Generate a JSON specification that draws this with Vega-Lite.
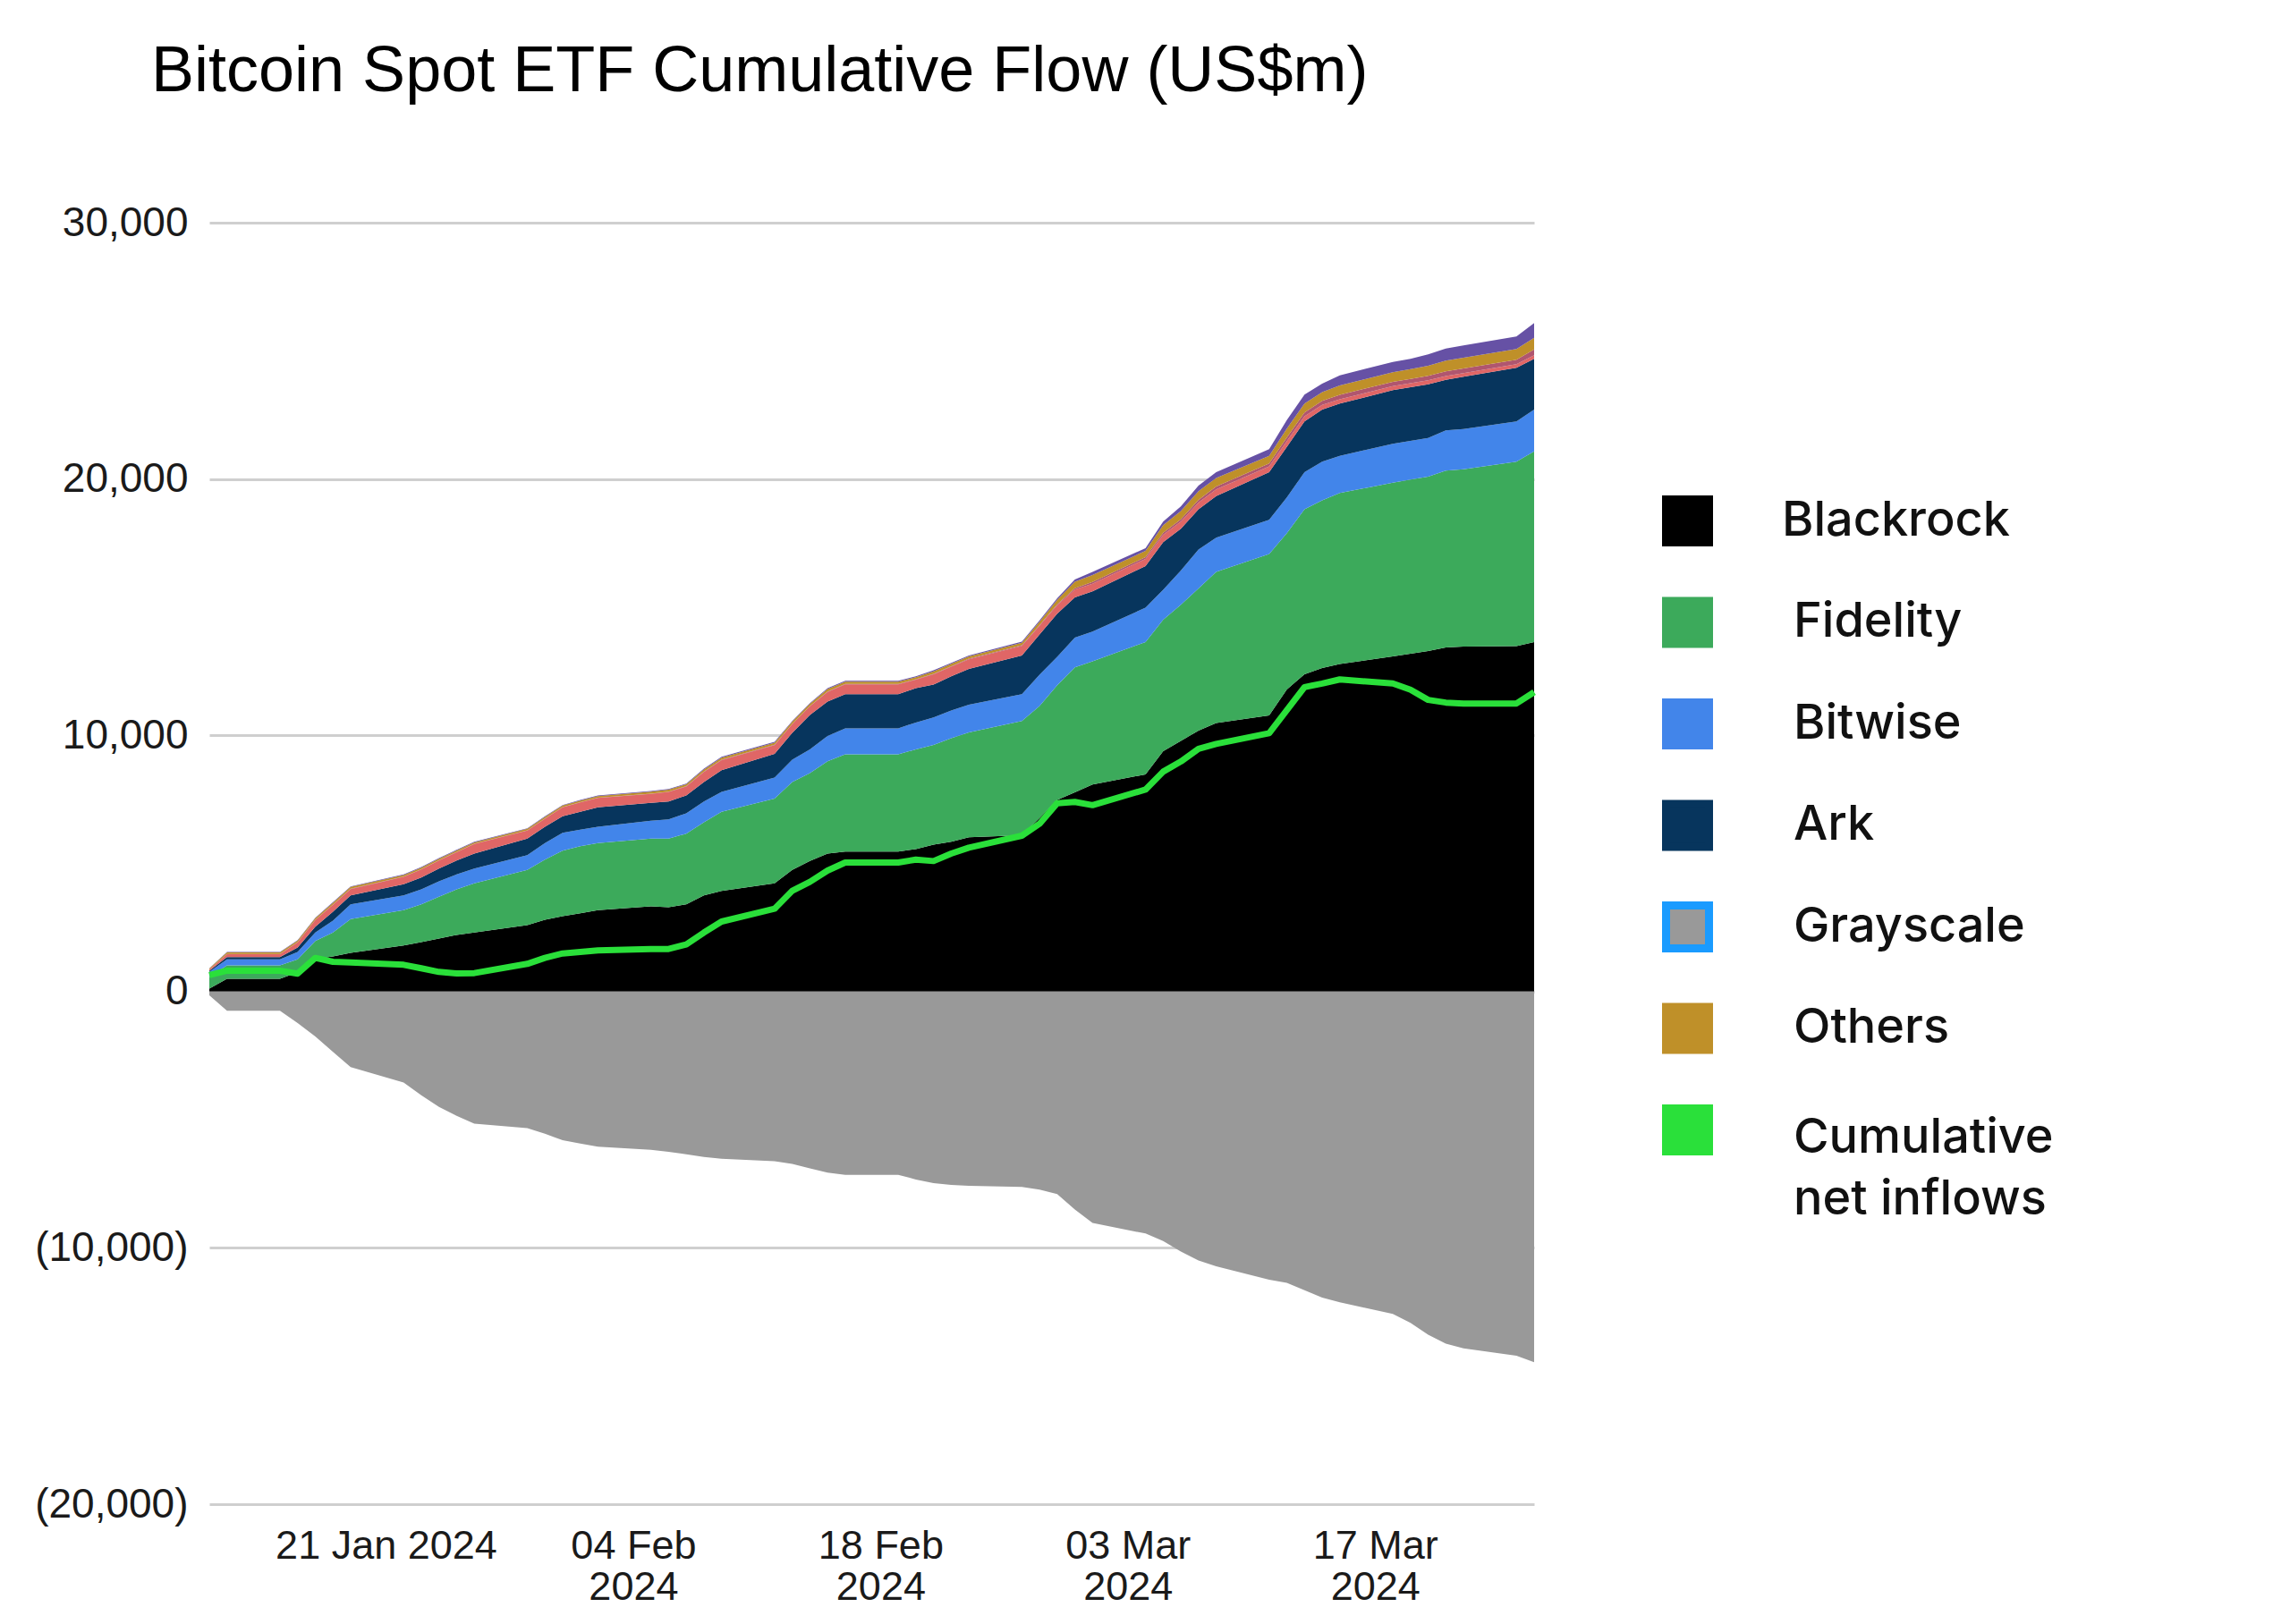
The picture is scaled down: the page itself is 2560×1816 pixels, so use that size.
{
  "$schema": "https://vega.github.io/schema/vega-lite/v6.json",
  "width": 1481,
  "height": 1433,
  "padding": {"left": 38, "top": 44, "right": 10, "bottom": 5},
  "background": "white",
  "title": {
    "text": "Bitcoin Spot ETF Cumulative Flow (US$m)",
    "anchor": "start",
    "frame": "group",
    "dx": -65,
    "offset": 109,
    "font": "Liberation Sans",
    "fontSize": 72,
    "fontWeight": "normal",
    "color": "#000000"
  },
  "datasets": {
    "stackRank": [
      {"fund": "Blackrock", "rank": 1},
      {"fund": "Fidelity", "rank": 2},
      {"fund": "Bitwise", "rank": 3},
      {"fund": "Ark", "rank": 4},
      {"fund": "Invesco", "rank": 5},
      {"fund": "Franklin", "rank": 6},
      {"fund": "Others", "rank": 7},
      {"fund": "Valkyrie", "rank": 8},
      {"fund": "Grayscale", "rank": 9}
    ],
    "flows": [
      {"date": "2024-01-11T00:00:00", "Blackrock": 116, "Fidelity": 442, "Bitwise": 209, "Ark": 47, "Invesco": 46, "Franklin": 4, "Others": 36, "Valkyrie": 7, "Grayscale": -150, "Net": 640},
      {"date": "2024-01-12T00:00:00", "Blackrock": 500, "Fidelity": 523, "Bitwise": 233, "Ark": 93, "Invesco": 110, "Franklin": 6, "Others": 60, "Valkyrie": 21, "Grayscale": -750, "Net": 814},
      {"date": "2024-01-15T00:00:00", "Blackrock": 500, "Fidelity": 523, "Bitwise": 233, "Ark": 93, "Invesco": 110, "Franklin": 6, "Others": 60, "Valkyrie": 21, "Grayscale": -750, "Net": 814},
      {"date": "2024-01-16T00:00:00", "Blackrock": 750, "Fidelity": 506, "Bitwise": 290, "Ark": 175, "Invesco": 200, "Franklin": 9, "Others": 60, "Valkyrie": 21, "Grayscale": -1230, "Net": 700},
      {"date": "2024-01-17T00:00:00", "Blackrock": 1279, "Fidelity": 698, "Bitwise": 325, "Ark": 233, "Invesco": 257, "Franklin": 10, "Others": 60, "Valkyrie": 22, "Grayscale": -1750, "Net": 1314},
      {"date": "2024-01-18T00:00:00", "Blackrock": 1372, "Fidelity": 930, "Bitwise": 465, "Ark": 349, "Invesco": 270, "Franklin": 10, "Others": 70, "Valkyrie": 22, "Grayscale": -2350, "Net": 1163},
      {"date": "2024-01-19T00:00:00", "Blackrock": 1511, "Fidelity": 1314, "Bitwise": 582, "Ark": 348, "Invesco": 245, "Franklin": 10, "Others": 70, "Valkyrie": 24, "Grayscale": -2950, "Net": 1140},
      {"date": "2024-01-22T00:00:00", "Blackrock": 1802, "Fidelity": 1372, "Bitwise": 581, "Ark": 431, "Invesco": 290, "Franklin": 10, "Others": 60, "Valkyrie": 24, "Grayscale": -3550, "Net": 1046},
      {"date": "2024-01-23T00:00:00", "Blackrock": 1930, "Fidelity": 1477, "Bitwise": 581, "Ark": 465, "Invesco": 310, "Franklin": 10, "Others": 62, "Valkyrie": 25, "Grayscale": -4050, "Net": 907},
      {"date": "2024-01-24T00:00:00", "Blackrock": 2070, "Fidelity": 1627, "Bitwise": 605, "Ark": 500, "Invesco": 312, "Franklin": 10, "Others": 60, "Valkyrie": 25, "Grayscale": -4500, "Net": 767},
      {"date": "2024-01-25T00:00:00", "Blackrock": 2209, "Fidelity": 1779, "Bitwise": 582, "Ark": 546, "Invesco": 323, "Franklin": 10, "Others": 60, "Valkyrie": 25, "Grayscale": -4850, "Net": 709},
      {"date": "2024-01-26T00:00:00", "Blackrock": 2302, "Fidelity": 1919, "Bitwise": 581, "Ark": 581, "Invesco": 372, "Franklin": 10, "Others": 58, "Valkyrie": 25, "Grayscale": -5150, "Net": 721},
      {"date": "2024-01-29T00:00:00", "Blackrock": 2593, "Fidelity": 2151, "Bitwise": 581, "Ark": 640, "Invesco": 314, "Franklin": 10, "Others": 60, "Valkyrie": 22, "Grayscale": -5330, "Net": 1081},
      {"date": "2024-01-30T00:00:00", "Blackrock": 2802, "Fidelity": 2349, "Bitwise": 639, "Ark": 640, "Invesco": 314, "Franklin": 10, "Others": 60, "Valkyrie": 23, "Grayscale": -5550, "Net": 1314},
      {"date": "2024-01-31T00:00:00", "Blackrock": 2941, "Fidelity": 2559, "Bitwise": 697, "Ark": 640, "Invesco": 349, "Franklin": 10, "Others": 60, "Valkyrie": 23, "Grayscale": -5800, "Net": 1488},
      {"date": "2024-02-01T00:00:00", "Blackrock": 3058, "Fidelity": 2616, "Bitwise": 640, "Ark": 697, "Invesco": 372, "Franklin": 10, "Others": 60, "Valkyrie": 23, "Grayscale": -5930, "Net": 1546},
      {"date": "2024-02-02T00:00:00", "Blackrock": 3174, "Fidelity": 2616, "Bitwise": 640, "Ark": 756, "Invesco": 372, "Franklin": 10, "Others": 60, "Valkyrie": 22, "Grayscale": -6050, "Net": 1604},
      {"date": "2024-02-05T00:00:00", "Blackrock": 3325, "Fidelity": 2640, "Bitwise": 697, "Ark": 698, "Invesco": 349, "Franklin": 10, "Others": 80, "Valkyrie": 26, "Grayscale": -6170, "Net": 1663},
      {"date": "2024-02-06T00:00:00", "Blackrock": 3290, "Fidelity": 2675, "Bitwise": 755, "Ark": 698, "Invesco": 370, "Franklin": 15, "Others": 75, "Valkyrie": 28, "Grayscale": -6250, "Net": 1663},
      {"date": "2024-02-07T00:00:00", "Blackrock": 3407, "Fidelity": 2755, "Bitwise": 791, "Ark": 698, "Invesco": 350, "Franklin": 15, "Others": 72, "Valkyrie": 28, "Grayscale": -6350, "Net": 1837},
      {"date": "2024-02-08T00:00:00", "Blackrock": 3756, "Fidelity": 2848, "Bitwise": 814, "Ark": 756, "Invesco": 395, "Franklin": 15, "Others": 80, "Valkyrie": 33, "Grayscale": -6450, "Net": 2302},
      {"date": "2024-02-09T00:00:00", "Blackrock": 3930, "Fidelity": 3081, "Bitwise": 779, "Ark": 849, "Invesco": 395, "Franklin": 15, "Others": 80, "Valkyrie": 33, "Grayscale": -6520, "Net": 2732},
      {"date": "2024-02-12T00:00:00", "Blackrock": 4221, "Fidelity": 3313, "Bitwise": 814, "Ark": 930, "Invesco": 340, "Franklin": 15, "Others": 80, "Valkyrie": 30, "Grayscale": -6620, "Net": 3232},
      {"date": "2024-02-13T00:00:00", "Blackrock": 4744, "Fidelity": 3430, "Bitwise": 872, "Ark": 1046, "Invesco": 340, "Franklin": 15, "Others": 80, "Valkyrie": 30, "Grayscale": -6720, "Net": 3930},
      {"date": "2024-02-14T00:00:00", "Blackrock": 5093, "Fidelity": 3430, "Bitwise": 930, "Ark": 1337, "Invesco": 340, "Franklin": 15, "Others": 80, "Valkyrie": 30, "Grayscale": -6900, "Net": 4279},
      {"date": "2024-02-15T00:00:00", "Blackrock": 5383, "Fidelity": 3605, "Bitwise": 988, "Ark": 1337, "Invesco": 380, "Franklin": 18, "Others": 90, "Valkyrie": 35, "Grayscale": -7060, "Net": 4720},
      {"date": "2024-02-16T00:00:00", "Blackrock": 5465, "Fidelity": 3790, "Bitwise": 1012, "Ark": 1337, "Invesco": 380, "Franklin": 18, "Others": 90, "Valkyrie": 35, "Grayscale": -7150, "Net": 5034},
      {"date": "2024-02-19T00:00:00", "Blackrock": 5465, "Fidelity": 3790, "Bitwise": 1012, "Ark": 1337, "Invesco": 380, "Franklin": 18, "Others": 90, "Valkyrie": 35, "Grayscale": -7150, "Net": 5034},
      {"date": "2024-02-20T00:00:00", "Blackrock": 5558, "Fidelity": 3895, "Bitwise": 1046, "Ark": 1337, "Invesco": 335, "Franklin": 15, "Others": 80, "Valkyrie": 35, "Grayscale": -7330, "Net": 5150},
      {"date": "2024-02-21T00:00:00", "Blackrock": 5732, "Fidelity": 3895, "Bitwise": 1070, "Ark": 1279, "Invesco": 400, "Franklin": 20, "Others": 100, "Valkyrie": 38, "Grayscale": -7470, "Net": 5092},
      {"date": "2024-02-22T00:00:00", "Blackrock": 5848, "Fidelity": 4035, "Bitwise": 1081, "Ark": 1337, "Invesco": 375, "Franklin": 20, "Others": 92, "Valkyrie": 37, "Grayscale": -7540, "Net": 5383},
      {"date": "2024-02-23T00:00:00", "Blackrock": 6023, "Fidelity": 4092, "Bitwise": 1082, "Ark": 1395, "Invesco": 375, "Franklin": 20, "Others": 90, "Valkyrie": 38, "Grayscale": -7580, "Net": 5616},
      {"date": "2024-02-26T00:00:00", "Blackrock": 6100, "Fidelity": 4457, "Bitwise": 1047, "Ark": 1511, "Invesco": 375, "Franklin": 20, "Others": 100, "Valkyrie": 39, "Grayscale": -7620, "Net": 6081},
      {"date": "2024-02-27T00:00:00", "Blackrock": 6774, "Fidelity": 4365, "Bitwise": 1221, "Ark": 1569, "Invesco": 340, "Franklin": 30, "Others": 130, "Valkyrie": 50, "Grayscale": -7730, "Net": 6546},
      {"date": "2024-02-28T00:00:00", "Blackrock": 7475, "Fidelity": 4478, "Bitwise": 1104, "Ark": 1686, "Invesco": 330, "Franklin": 40, "Others": 170, "Valkyrie": 60, "Grayscale": -7900, "Net": 7350},
      {"date": "2024-02-29T00:00:00", "Blackrock": 7778, "Fidelity": 4872, "Bitwise": 1163, "Ark": 1569, "Invesco": 300, "Franklin": 60, "Others": 250, "Valkyrie": 88, "Grayscale": -8500, "Net": 7400},
      {"date": "2024-03-01T00:00:00", "Blackrock": 8075, "Fidelity": 4808, "Bitwise": 1162, "Ark": 1570, "Invesco": 300, "Franklin": 70, "Others": 270, "Valkyrie": 116, "Grayscale": -9030, "Net": 7273},
      {"date": "2024-03-04T00:00:00", "Blackrock": 8476, "Fidelity": 5162, "Bitwise": 1337, "Ark": 1628, "Invesco": 280, "Franklin": 70, "Others": 240, "Valkyrie": 110, "Grayscale": -9440, "Net": 7880},
      {"date": "2024-03-05T00:00:00", "Blackrock": 9380, "Fidelity": 5130, "Bitwise": 1163, "Ark": 1861, "Invesco": 290, "Franklin": 80, "Others": 290, "Valkyrie": 142, "Grayscale": -9730, "Net": 8580},
      {"date": "2024-03-06T00:00:00", "Blackrock": 9777, "Fidelity": 5315, "Bitwise": 1337, "Ark": 1628, "Invesco": 280, "Franklin": 90, "Others": 320, "Valkyrie": 182, "Grayscale": -10140, "Net": 8975},
      {"date": "2024-03-07T00:00:00", "Blackrock": 10185, "Fidelity": 5546, "Bitwise": 1512, "Ark": 1570, "Invesco": 270, "Franklin": 100, "Others": 340, "Valkyrie": 220, "Grayscale": -10490, "Net": 9470},
      {"date": "2024-03-08T00:00:00", "Blackrock": 10478, "Fidelity": 5893, "Bitwise": 1337, "Ark": 1628, "Invesco": 260, "Franklin": 110, "Others": 330, "Valkyrie": 230, "Grayscale": -10720, "Net": 9660},
      {"date": "2024-03-11T00:00:00", "Blackrock": 10778, "Fidelity": 6291, "Bitwise": 1337, "Ark": 1860, "Invesco": 230, "Franklin": 110, "Others": 300, "Valkyrie": 255, "Grayscale": -11240, "Net": 10080},
      {"date": "2024-03-12T00:00:00", "Blackrock": 11789, "Fidelity": 6093, "Bitwise": 1396, "Ark": 1976, "Invesco": 220, "Franklin": 140, "Others": 350, "Valkyrie": 337, "Grayscale": -11360, "Net": 10980},
      {"date": "2024-03-13T00:00:00", "Blackrock": 12382, "Fidelity": 6431, "Bitwise": 1453, "Ark": 1977, "Invesco": 200, "Franklin": 150, "Others": 350, "Valkyrie": 346, "Grayscale": -11650, "Net": 11880},
      {"date": "2024-03-14T00:00:00", "Blackrock": 12626, "Fidelity": 6536, "Bitwise": 1511, "Ark": 2035, "Invesco": 180, "Franklin": 160, "Others": 340, "Valkyrie": 332, "Grayscale": -11940, "Net": 12020},
      {"date": "2024-03-15T00:00:00", "Blackrock": 12780, "Fidelity": 6672, "Bitwise": 1454, "Ark": 2034, "Invesco": 170, "Franklin": 170, "Others": 370, "Valkyrie": 395, "Grayscale": -12120, "Net": 12180},
      {"date": "2024-03-18T00:00:00", "Blackrock": 13080, "Fidelity": 6779, "Bitwise": 1512, "Ark": 2092, "Invesco": 160, "Franklin": 170, "Others": 375, "Valkyrie": 400, "Grayscale": -12580, "Net": 12020},
      {"date": "2024-03-19T00:00:00", "Blackrock": 13185, "Fidelity": 6790, "Bitwise": 1512, "Ark": 2093, "Invesco": 155, "Franklin": 170, "Others": 379, "Valkyrie": 400, "Grayscale": -12930, "Net": 11780},
      {"date": "2024-03-20T00:00:00", "Blackrock": 13290, "Fidelity": 6802, "Bitwise": 1511, "Ark": 2093, "Invesco": 150, "Franklin": 175, "Others": 400, "Valkyrie": 438, "Grayscale": -13390, "Net": 11380},
      {"date": "2024-03-21T00:00:00", "Blackrock": 13425, "Fidelity": 6899, "Bitwise": 1570, "Ark": 1976, "Invesco": 150, "Franklin": 180, "Others": 420, "Valkyrie": 472, "Grayscale": -13740, "Net": 11275},
      {"date": "2024-03-22T00:00:00", "Blackrock": 13460, "Fidelity": 6922, "Bitwise": 1570, "Ark": 2035, "Invesco": 145, "Franklin": 180, "Others": 420, "Valkyrie": 476, "Grayscale": -13920, "Net": 11240},
      {"date": "2024-03-25T00:00:00", "Blackrock": 13480, "Fidelity": 7193, "Bitwise": 1570, "Ark": 2092, "Invesco": 140, "Franklin": 180, "Others": 420, "Valkyrie": 482, "Grayscale": -14210, "Net": 11240},
      {"date": "2024-03-26T00:00:00", "Blackrock": 13640, "Fidelity": 7440, "Bitwise": 1628, "Ark": 1976, "Invesco": 140, "Franklin": 230, "Others": 450, "Valkyrie": 576, "Grayscale": -14460, "Net": 11680}
    ]
  },
  "data": {"name": "flows"},
  "encoding": {
    "x": {
      "field": "date",
      "type": "temporal",
      "scale": {"domain": [{"year": 2024, "month": 1, "date": 11}, {"year": 2024, "month": 3, "date": 26}], "nice": false},
      "axis": {
        "title": null,
        "grid": false,
        "domain": false,
        "ticks": false,
        "tickSize": 0,
        "labelPadding": 24,
        "labelFont": "Liberation Sans",
        "labelFontSize": 45,
        "labelColor": "#1a1a1a",
        "labelLineHeight": 46,
        "labelLimit": 500,
        "labelFlush": false,
        "labelBaseline": "top",
        "values": [
          {"year": 2024, "month": 1, "date": 21},
          {"year": 2024, "month": 2, "date": 4},
          {"year": 2024, "month": 2, "date": 18},
          {"year": 2024, "month": 3, "date": 3},
          {"year": 2024, "month": 3, "date": 17}
        ],
        "labelExpr": "timeFormat(datum.value, '%m') == '01' ? timeFormat(datum.value, '%d %b %Y') : [timeFormat(datum.value, '%d %b'), timeFormat(datum.value, '%Y')]"
      }
    }
  },
  "layer": [
    {
      "transform": [
        {"fold": ["Blackrock", "Fidelity", "Bitwise", "Ark", "Invesco", "Franklin", "Others", "Valkyrie", "Grayscale"], "as": ["fund", "value"]},
        {"lookup": "fund", "from": {"data": {"name": "stackRank"}, "key": "fund", "fields": ["rank"]}}
      ],
      "mark": {"type": "area", "interpolate": "linear", "opacity": 1},
      "encoding": {
        "y": {
          "field": "value",
          "type": "quantitative",
          "stack": "zero",
          "scale": {"domain": [-20000, 30000], "nice": false, "zero": false},
          "axis": {
            "title": null,
            "values": [-20000, -10000, 0, 10000, 20000, 30000],
            "labelExpr": "datum.value < 0 ? '(' + format(-datum.value, ',') + ')' : format(datum.value, ',')",
            "domain": false,
            "ticks": false,
            "tickSize": 0,
            "labelPadding": 24,
            "labelFont": "Liberation Sans",
            "labelFontSize": 46,
            "labelColor": "#1a1a1a",
            "grid": true,
            "gridColor": "#cfcfcf",
            "gridWidth": 3
          }
        },
        "order": {"field": "rank", "type": "quantitative", "sort": "ascending"},
        "color": {
          "field": "fund",
          "type": "nominal",
          "scale": {
            "domain": ["Blackrock", "Fidelity", "Bitwise", "Ark", "Invesco", "Franklin", "Others", "Valkyrie", "Grayscale", "Cumulative net inflows"],
            "range": ["#000000", "#3caa5b", "#4285ea", "#07355d", "#e06666", "#b0566f", "#bf9029", "#6651a5", "#999999", "#2ae03a"]
          },
          "legend": {
            "orient": "none",
            "legendX": 1624,
            "legendY": 305,
            "title": null,
            "direction": "vertical",
            "values": ["Blackrock", "Fidelity", "Bitwise", "Ark", "Grayscale", "Others", "Cumulative net inflows"],
            "symbolType": "square",
            "symbolSize": 2304,
            "symbolStrokeWidth": 9,
            "symbolOpacity": 1,
            "labelFont": "Inter",
            "labelFontSize": 54,
            "labelFontWeight": 500,
            "labelColor": "#111111",
            "labelOffset": 90,
            "labelLimit": 800,
            "rowPadding": 28.5,
            "labelExpr": "datum.label === 'Cumulative net inflows' ? ['Cumulative', 'net inflows'] : datum.label",
            "encode": {
              "symbols": {
                "update": {
                  "fill": {"scale": "color", "field": "value"},
                  "stroke": [
                    {"test": "datum.value === 'Grayscale'", "value": "#1a9bff"},
                    {"scale": "color", "field": "value"}
                  ],
                  "strokeWidth": {"value": 9},
                  "opacity": {"value": 1}
                }
              },
              "labels": {
                "update": {
                  "lineHeight": {"value": 69},
                  "dx": {"signal": "datum.value === 'Blackrock' ? -13 : 0"},
                  "dy": {"signal": "datum.value === 'Cumulative net inflows' ? 9 : 0"}
                }
              }
            }
          }
        }
      }
    },
    {
      "mark": {"type": "line", "interpolate": "linear", "strokeWidth": 7, "strokeJoin": "round", "color": "#2ae03a"},
      "encoding": {
        "y": {"field": "Net", "type": "quantitative"}
      }
    }
  ],
  "config": {
    "view": {"stroke": null},
    "legend": {"padding": 0}
  }
}
